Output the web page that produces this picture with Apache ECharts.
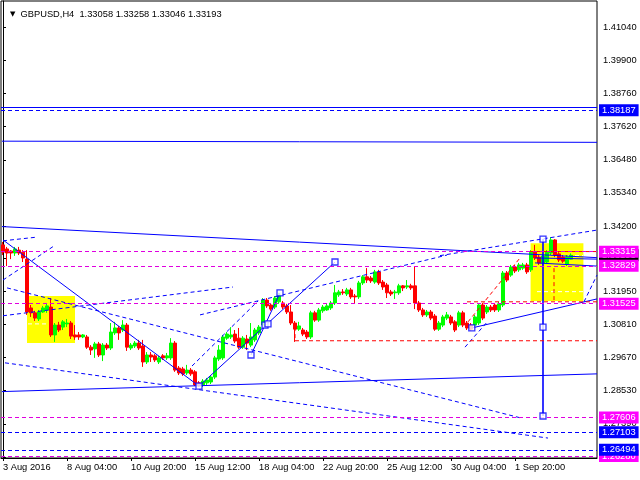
<!DOCTYPE html>
<html><head><meta charset="utf-8">
<script src="https://cdn.jsdelivr.net/npm/echarts@6/dist/echarts.min.js"></script>
<style>html,body{margin:0;padding:0;background:#fff}#c{width:640px;height:480px}</style>
</head><body><div id="c"></div>
<script>
// ---------- DATA ----------
const tradingDays = ['3 Aug','4 Aug','5 Aug','8 Aug','9 Aug','10 Aug','11 Aug','12 Aug','15 Aug','16 Aug','17 Aug','18 Aug','19 Aug','22 Aug','23 Aug','24 Aug','25 Aug','26 Aug','29 Aug','30 Aug','31 Aug','1 Sep','2 Sep','5 Sep','6 Sep','7 Sep'];
const barHours = ['00:00','04:00','08:00','12:00','16:00','20:00'];
const firstBar = 3;       // 3 Aug 12:00
const barCount = 149;     // bars incl. empty space on the right
const firstLabel = '3 Aug 2016';
const lastLabelIndex = 128;
const labelEvery = 16;

// [open, close, low, high]
const candles = [
[1.3355,1.3330,1.3320,1.3365],[1.3341,1.3327,1.3282,1.3348],[1.3334,1.3327,1.3306,1.3337],[1.3327,1.3341,1.3317,1.3348],
[1.3337,1.3327,1.3320,1.3348],[1.3330,1.3310,1.3296,1.3337],[1.3306,1.3124,1.3114,1.3337],[1.3138,1.3121,1.3107,1.3148],
[1.3121,1.3103,1.3093,1.3128],[1.3100,1.3124,1.3093,1.3131],[1.3124,1.3138,1.3121,1.3145],[1.3131,1.3145,1.3121,1.3155],
[1.3141,1.3045,1.3038,1.3172],[1.3045,1.3079,1.3021,1.3086],[1.3079,1.3062,1.3055,1.3090],[1.3072,1.3090,1.3062,1.3096],
[1.3083,1.3086,1.3072,1.3100],[1.3086,1.3041,1.3031,1.3093],[1.3045,1.3038,1.3028,1.3079],[1.3045,1.3038,1.3028,1.3055],
[1.3038,1.3045,1.3034,1.3048],[1.3038,1.3003,1.2997,1.3045],[1.3003,1.2993,1.2976,1.3010],[1.2997,1.3014,1.2966,1.3021],
[1.3014,1.2976,1.2969,1.3021],[1.2976,1.3010,1.2955,1.3017],[1.3010,1.3000,1.2993,1.3017],[1.3000,1.3055,1.2993,1.3086],
[1.3052,1.3069,1.3045,1.3090],[1.3069,1.3052,1.3028,1.3076],[1.3062,1.3079,1.3055,1.3096],[1.3079,1.3003,1.2990,1.3086],
[1.3000,1.3010,1.2993,1.3017],[1.3007,1.3017,1.3000,1.3024],[1.3017,1.3000,1.2993,1.3028],[1.3007,1.2952,1.2935,1.3028],
[1.2952,1.2976,1.2945,1.2986],[1.2976,1.2969,1.2952,1.2986],[1.2973,1.2959,1.2952,1.2979],[1.2952,1.2966,1.2945,1.2973],
[1.2973,1.2966,1.2959,1.2979],[1.2966,1.2973,1.2959,1.2983],[1.2966,1.3017,1.2959,1.3034],[1.3017,1.2924,1.2918,1.3024],
[1.2931,1.2914,1.2907,1.2938],[1.2928,1.2911,1.2904,1.2935],[1.2914,1.2924,1.2907,1.2942],[1.2924,1.2911,1.2904,1.2931],
[1.2918,1.2873,1.2869,1.2924],[1.2880,1.2869,1.2866,1.2886],[1.2873,1.2886,1.2866,1.2893],[1.2880,1.2890,1.2873,1.2897],
[1.2883,1.2900,1.2876,1.2907],[1.2900,1.2966,1.2893,1.2973],[1.2962,1.2993,1.2955,1.3010],[1.2966,1.3038,1.2959,1.3045],
[1.3034,1.3048,1.3028,1.3055],[1.3038,1.3045,1.3031,1.3072],[1.3048,1.3024,1.3017,1.3062],[1.3034,1.3003,1.2997,1.3069],
[1.3003,1.3034,1.2997,1.3041],[1.3031,1.3017,1.2993,1.3045],[1.3010,1.3038,1.3003,1.3086],[1.3028,1.3062,1.3021,1.3069],
[1.3052,1.3072,1.3045,1.3079],[1.3079,1.3165,1.3072,1.3172],[1.3165,1.3145,1.3138,1.3172],[1.3148,1.3134,1.3128,1.3155],
[1.3141,1.3172,1.3134,1.3179],[1.3159,1.3183,1.3152,1.3190],[1.3155,1.3141,1.3134,1.3162],[1.3145,1.3124,1.3117,1.3152],
[1.3124,1.3086,1.3079,1.3148],[1.3086,1.3065,1.3021,1.3093],[1.3065,1.3076,1.3059,1.3090],[1.3062,1.3048,1.3041,1.3069],
[1.3055,1.3038,1.3031,1.3062],[1.3038,1.3121,1.3031,1.3128],[1.3121,1.3096,1.3090,1.3128],[1.3096,1.3131,1.3090,1.3138],
[1.3128,1.3141,1.3121,1.3148],[1.3131,1.3145,1.3128,1.3152],[1.3138,1.3155,1.3131,1.3162],[1.3155,1.3190,1.3148,1.3217],
[1.3183,1.3193,1.3176,1.3200],[1.3193,1.3190,1.3183,1.3203],[1.3186,1.3200,1.3179,1.3207],[1.3200,1.3176,1.3169,1.3207],
[1.3179,1.3176,1.3155,1.3186],[1.3176,1.3224,1.3169,1.3231],[1.3224,1.3245,1.3217,1.3251],[1.3245,1.3234,1.3224,1.3275],
[1.3241,1.3231,1.3224,1.3248],[1.3227,1.3262,1.3221,1.3269],[1.3262,1.3224,1.3217,1.3269],[1.3227,1.3210,1.3200,1.3234],
[1.3217,1.3190,1.3172,1.3224],[1.3193,1.3186,1.3179,1.3200],[1.3190,1.3193,1.3169,1.3200],[1.3190,1.3214,1.3183,1.3221],
[1.3214,1.3207,1.3196,1.3217],[1.3210,1.3214,1.3203,1.3234],[1.3214,1.3207,1.3200,1.3221],[1.3214,1.3155,1.3134,1.3279],
[1.3155,1.3131,1.3124,1.3162],[1.3131,1.3114,1.3107,1.3138],[1.3114,1.3124,1.3107,1.3131],[1.3124,1.3103,1.3096,1.3131],
[1.3110,1.3065,1.3059,1.3117],[1.3065,1.3086,1.3059,1.3093],[1.3079,1.3107,1.3072,1.3114],[1.3103,1.3114,1.3096,1.3124],
[1.3107,1.3086,1.3079,1.3114],[1.3090,1.3062,1.3055,1.3096],[1.3079,1.3121,1.3072,1.3128],[1.3121,1.3079,1.3072,1.3128],
[1.3086,1.3069,1.3062,1.3093],[1.3079,1.3065,1.3059,1.3086],[1.3079,1.3107,1.3072,1.3114],[1.3086,1.3148,1.3079,1.3155],
[1.3148,1.3103,1.3096,1.3155],[1.3124,1.3141,1.3117,1.3148],[1.3141,1.3131,1.3124,1.3148],[1.3148,1.3131,1.3124,1.3155],
[1.3131,1.3152,1.3124,1.3159],[1.3148,1.3258,1.3141,1.3265],[1.3258,1.3234,1.3227,1.3265],[1.3251,1.3279,1.3245,1.3286],
[1.3279,1.3265,1.3258,1.3286],[1.3269,1.3286,1.3262,1.3293],[1.3275,1.3286,1.3269,1.3293],[1.3286,1.3262,1.3255,1.3293],
[1.3269,1.3330,1.3262,1.3337],[1.3330,1.3310,1.3303,1.3355],[1.3313,1.3293,1.3286,1.3320],[1.3293,1.3317,1.3286,1.3324],
[1.3296,1.3330,1.3289,1.3337],[1.3327,1.3372,1.3320,1.3382],[1.3372,1.3320,1.3313,1.3375],[1.3324,1.3303,1.3296,1.3330],
[1.3313,1.3299,1.3293,1.3320],[1.3289,1.3313,1.3282,1.3320],[1.33058,1.33193,1.33046,1.33258]
];

const headerText = 'GBPUSD,H4  1.33058 1.33258 1.33046 1.33193';
const priceTicks = [1.41040,1.39900,1.38760,1.37620,1.36480,1.35340,1.34200,1.33080,1.31950,1.30810,1.29670,1.28530,1.27390,1.26250];
const yMin = 1.26214, yMax = 1.41945;

// horizontal levels
const levelSolidBlue = [1.38300];
const levelDashBlue = [1.38187, 1.27103, 1.26494];
const levelDashMagenta = [1.26280, 1.33315, 1.32829, 1.31525, 1.27606];
const currentPrice = 1.33193;

// trend lines: [[barIndex, price],[barIndex, price]]
const solidBlueLines = [
  [[-0.25,1.3418],[148.5,1.3311]],
  [[-0.25,1.3712],[148.5,1.3708]],
  [[-0.25,1.2850],[148.5,1.2911]],
  [[117.2,1.3069],[148.5,1.3169]],
  [[133,1.3310],[148.5,1.3306]],
  [[133,1.3293],[148.5,1.3282]],
  [[0,1.3372],[49,1.2869]],
  [[49,1.2869],[83,1.3296]],
  [[62,1.2976],[69.25,1.3190]]
];
const verticalLine = [[135,1.3375],[135,1.2766]];
const dashedBlueLines = [
  [[1,1.3207],[129.25,1.2760]],
  [[0.5,1.2949],[136.25,1.2690]],
  [[0,1.3111],[57.5,1.3210]],
  [[0,1.3369],[8,1.3381]],
  [[0,1.3234],[12.5,1.3349]],
  [[47.25,1.2938],[63.75,1.3162]],
  [[49.25,1.3114],[111,1.3320]],
  [[109.25,1.3318],[148.5,1.3406]],
  [[115.5,1.3003],[121,1.3089]],
  [[145.25,1.3159],[148.5,1.3251]]
];
const dashedRedLines = [
  [[73,1.3025],[148.5,1.3025]],
  [[73,1.3072],[73,1.3025]],
  [[116,1.3159],[148.5,1.3159]],
  [[131.75,1.3332],[148.5,1.3332]],
  [[137.75,1.3275],[137.75,1.3159]],
  [[116.25,1.3090],[129.25,1.3310]]
];
const whiteLines = [
  [[6.25,1.3083],[11.25,1.3083]],
  [[133.5,1.3194],[145,1.3194]],
  [[132.5,1.3318],[145,1.3318]]
];
const squares = [[49,1.2869],[62,1.2976],[65.5,1.3079],[66.25,1.3083],[69.25,1.3190],[83,1.3296],[117.2,1.3069],[135,1.3375],[135,1.3072],[135,1.2766]];
const yellowBoxes = [[[6,1.3179],[18,1.3017]],[[131.9,1.3361],[145.1,1.3162]]];

// ---------- BUILD ----------
const allBars = [];
tradingDays.forEach(d => barHours.forEach(h => allBars.push(d + ' ' + h)));
const categories = allBars.slice(firstBar, firstBar + barCount);
categories[0] = firstLabel;

const FONT = 'Liberation Sans';
const FS = 9.3;
const showLabel = (i) => i % labelEvery === 0 && i <= lastLabelIndex;

const series = [];
series.push({
  type:'line', xAxisIndex:1, yAxisIndex:0, data:[], z:1, silent:true,
  markArea:{ silent:true, itemStyle:{color:'#ffff00', opacity:1},
    data: yellowBoxes.map(b => [{coord:b[0]},{coord:b[1]}]) }
});
series.push({
  type:'candlestick', xAxisIndex:0, yAxisIndex:0, data:candles, z:3,
  barWidth:3, silent:true,
  itemStyle:{color:'#00ff00', color0:'#ff0000', borderColor:'#00ff00', borderColor0:'#ff0000', borderWidth:1}
});
function seg(d, style, z){
  series.push({type:'line', xAxisIndex:1, yAxisIndex:0, data:d, showSymbol:false, symbol:'none',
    lineStyle:style, z:z||4, silent:true, animation:false});
}
whiteLines.forEach(d => seg(d, {color:'#ffffff', width:1, type:[4,3]}, 2));
solidBlueLines.forEach(d => seg(d, {color:'#0000ff', width:1}));
seg(verticalLine, {color:'#0000ff', width:1.6});
dashedBlueLines.forEach(d => seg(d, {color:'#0000ff', width:1, type:[4,3]}));
dashedRedLines.forEach(d => seg(d, {color:'#ff0000', width:1, type:[4,3]}));

const lab = (bg) => ({show:true, position:'end', distance:2, color:'#fff', backgroundColor:bg,
  padding:[2,3,1,3], fontFamily:FONT, fontSize:FS, formatter:p => Number(p.value).toFixed(5)});
const mlData = [];
mlData.push({yAxis:currentPrice, lineStyle:{color:'rgba(0,0,0,0)', width:0}, label:lab('#000000')});
levelSolidBlue.forEach(v => mlData.push({yAxis:v, lineStyle:{color:'#0000ff', width:1, type:'solid'}, label:{show:false}}));
levelDashMagenta.forEach((v,i) => {
  mlData.push({yAxis:v, lineStyle:{color:'#e000e0', width:1, type:[4,3]}, label:lab('#ff00ff')});
  if (i === 0) levelDashBlue.slice().reverse().forEach(b => mlData.push({yAxis:b, lineStyle:{color:'#0000ff', width:1, type:[4,3]}, label:lab('#0000ff')}));
});
series.push({type:'line', xAxisIndex:1, yAxisIndex:0, data:[], z:5,
  markLine:{silent:true, precision:5, symbol:['none','none'], animation:false, data:mlData}});

series.push({type:'scatter', xAxisIndex:1, yAxisIndex:0, data:squares, symbol:'rect', symbolSize:6, z:6, silent:true,
  itemStyle:{color:'#ffffff', borderColor:'#0000ff', borderWidth:1.3}});

const chart = echarts.init(document.getElementById('c'), null, {renderer:'canvas'});
chart.setOption({
  animation:false,
  backgroundColor:'#ffffff',
  title:{left:5, top:5, text:'{t|▼}  ' + headerText,
    textStyle:{fontFamily:FONT, fontSize:FS, fontWeight:'normal', color:'#000',
      rich:{t:{fontFamily:'DejaVu Sans', fontSize:7, color:'#000'}}}},
  grid:{left:1, right:43, top:1, bottom:22, show:true, borderColor:'#000', borderWidth:1, backgroundColor:'transparent'},
  xAxis:[
    {type:'category', data:categories, boundaryGap:true,
      axisLine:{show:true, lineStyle:{color:'#000'}},
      axisTick:{show:true, alignWithLabel:true, length:3, interval:(i)=>showLabel(i), lineStyle:{color:'#000'}},
      axisLabel:{interval:(i)=>showLabel(i), align:'left', margin:5, color:'#000', fontFamily:FONT, fontSize:FS},
      splitLine:{show:false}},
    {type:'value', min:-0.5, max:barCount-0.5, show:false}
  ],
  yAxis:[{type:'value', position:'right', min:yMin, max:yMax, scale:true,
    axisLine:{show:true, lineStyle:{color:'#000'}},
    axisTick:{show:true, length:3, customValues:priceTicks, lineStyle:{color:'#000'}},
    axisLabel:{customValues:priceTicks, formatter:(v)=>v.toFixed(5), margin:6, color:'#000', fontFamily:FONT, fontSize:FS},
    splitLine:{show:false}}],
  series:series
});
</script></body></html>
